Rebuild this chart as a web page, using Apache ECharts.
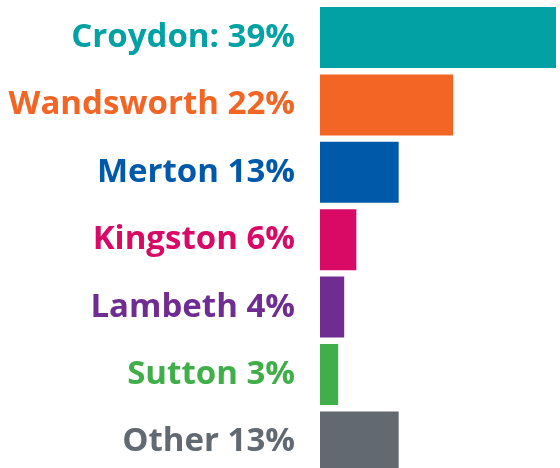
<!DOCTYPE html>
<html>
<head>
<meta charset="utf-8">
<script src="https://cdn.jsdelivr.net/npm/echarts@6/dist/echarts.min.js"></script>
<style>
  html, body { margin: 0; padding: 0; background: #fff; overflow: hidden; }
  #chart { width: 560px; height: 480px; }
</style>
</head>
<body>
<div id="chart"></div>
<script>
const boroughs = ["Croydon", "Wandsworth", "Merton", "Kingston", "Lambeth", "Sutton", "Other"];
const labels = ["Croydon: 39%", "Wandsworth 22%", "Merton 13%", "Kingston 6%", "Lambeth 4%", "Sutton 3%", "Other 13%"];
const shares = [39, 22, 13, 6, 4, 3, 13];
const colors = ["#01A1A4", "#F26524", "#0059A9", "#D80A65", "#6F2C91", "#40AE49", "#626970"];

const myChart = echarts.init(document.getElementById("chart"));

myChart.setOption({
  animation: false,
  grid: {
    left: 320,
    top: 3.8,
    width: 236,
    height: 471.8,
    containLabel: false
  },
  xAxis: {
    type: "value",
    min: 0,
    max: 39,
    show: false
  },
  yAxis: {
    type: "category",
    inverse: true,
    data: labels,
    axisLine: { show: false },
    axisTick: { show: false },
    axisLabel: {
      margin: 25,
      fontFamily: "Open Sans",
      fontWeight: "bold",
      fontSize: 33,
      color: (value, index) => colors[index]
    }
  },
  series: [
    {
      type: "bar",
      barCategoryGap: "9.5%",
      data: shares.map((v, i) => ({
        value: v,
        name: boroughs[i],
        itemStyle: { color: colors[i] }
      }))
    }
  ]
});
</script>
</body>
</html>
